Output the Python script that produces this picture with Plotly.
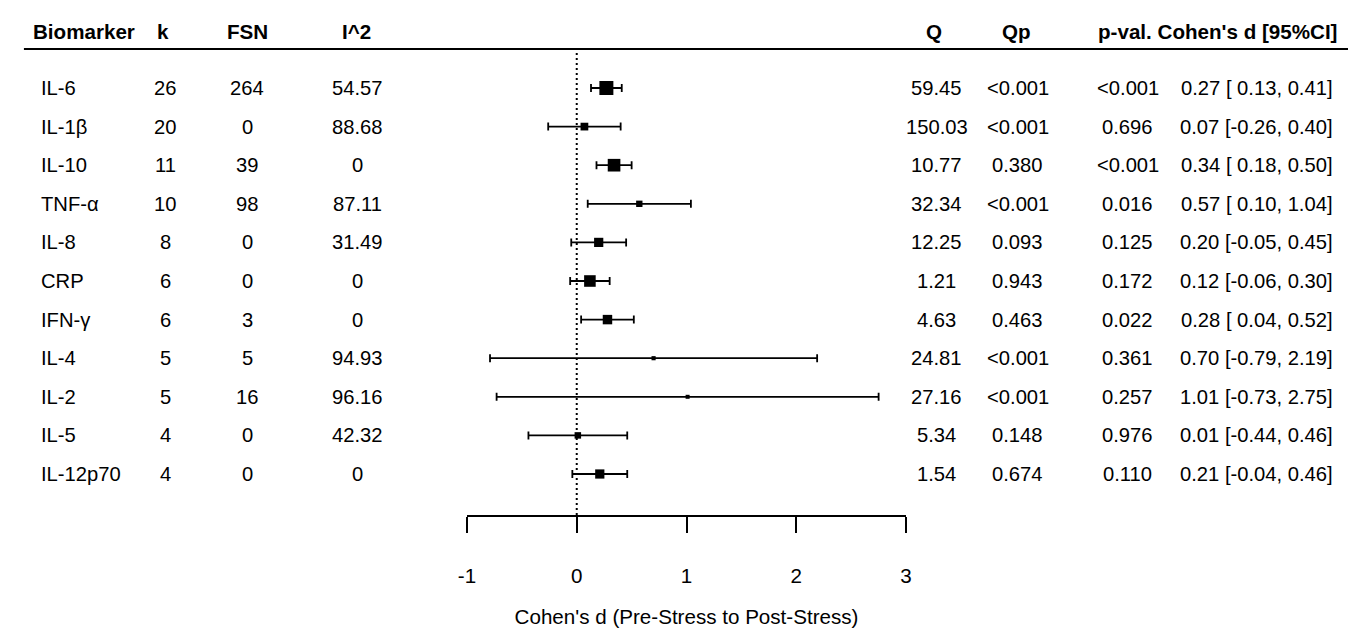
import plotly.graph_objects as go

# ---------------- data ----------------
biomarkers = ["IL-6", "IL-1β", "IL-10", "TNF-α", "IL-8", "CRP", "IFN-γ", "IL-4", "IL-2", "IL-5", "IL-12p70"]
k_vals = [26, 20, 11, 10, 8, 6, 6, 5, 5, 4, 4]
fsn_vals = [264, 0, 39, 98, 0, 0, 3, 5, 16, 0, 0]
i2_vals = [54.57, 88.68, 0, 87.11, 31.49, 0, 0, 94.93, 96.16, 42.32, 0]
q_vals = [59.45, 150.03, 10.77, 32.34, 12.25, 1.21, 4.63, 24.81, 27.16, 5.34, 1.54]
qp_vals = ["<0.001", "<0.001", "0.380", "<0.001", "0.093", "0.943", "0.463", "<0.001", "<0.001", "0.148", "0.674"]
p_vals = ["<0.001", "0.696", "<0.001", "0.016", "0.125", "0.172", "0.022", "0.361", "0.257", "0.976", "0.110"]
d_vals = [0.27, 0.07, 0.34, 0.57, 0.20, 0.12, 0.28, 0.70, 1.01, 0.01, 0.21]
ci_low = [0.13, -0.26, 0.18, 0.10, -0.05, -0.06, 0.04, -0.79, -0.73, -0.44, -0.04]
ci_high = [0.41, 0.40, 0.50, 1.04, 0.45, 0.30, 0.52, 2.19, 2.75, 0.46, 0.46]
tick_vals = [-1, 0, 1, 2, 3]
tick_labels = ["-1", "0", "1", "2", "3"]
headers = ["Biomarker", "k", "FSN", "I^2", "Q", "Qp", "p-val. Cohen's d [95%CI]"]
x_title = "Cohen's d (Pre-Stress to Post-Stress)"

# ---------------- layout constants ----------------
W, H = 1356, 629
FONT = "Liberation Sans, Arial, Helvetica, sans-serif"
FS = 20.2      # table values
FSH = 20.6     # headers, ticks, axis title
n = len(biomarkers)
row0_px, row_step = 80.0, 38.6
plot_top_px, plot_bot_px = 45.0, 507.0
y_top = (plot_top_px - row0_px) / row_step
y_bot = (plot_bot_px - row0_px) / row_step

# marker size from inverse CI width (weights)
w = [1.0 / (h - l) for l, h in zip(ci_low, ci_high)]
wmin, wmax = min(w), max(w)
sizes = [4 + 10 * (wi - wmin) / (wmax - wmin) for wi in w]

fig = go.Figure()
fig.add_trace(go.Scatter(
    x=d_vals, y=list(range(n)), mode="markers",
    marker=dict(symbol="square", size=sizes, color="black", opacity=1, line=dict(width=0)),
    error_x=dict(type="data", symmetric=False,
                 array=[h - d for h, d in zip(ci_high, d_vals)],
                 arrayminus=[d - l for d, l in zip(d_vals, ci_low)],
                 color="black", thickness=1.8, width=4),
    cliponaxis=False, showlegend=False, hoverinfo="skip",
))

# reference line at 0
fig.add_shape(type="line", xref="x", yref="y domain", x0=0, x1=0, y0=0, y1=1,
              line=dict(color="black", width=2, dash="2px,3px"), layer="below")
# header rule
fig.add_shape(type="line", xref="paper", yref="paper", x0=7 / W, x1=1, y0=1 - 41 / H, y1=1 - 41 / H,
              line=dict(color="black", width=2))

anns = []


def px(x):
    return x / W


def add_text(text, x, y, anchor, yref="y", bold=False, size=FS):
    anns.append(dict(text=f"<b>{text}</b>" if bold else text, x=px(x), xref="paper",
                     y=y, yref=yref, xanchor=anchor, yanchor="middle", showarrow=False,
                     font=dict(family=FONT, size=size, color="black")))


# headers
hy = 1 - 24 / H
hdr_pos = [(14, "left"), (148, "center"), (233, "center"), (343, "center"),
           (927, "center"), (1011, "center"), (1337, "right")]
for txt, (x, a) in zip(headers, hdr_pos):
    add_text(txt, x, hy, a, yref="paper", bold=True, size=FSH)

for i in range(n):
    add_text(biomarkers[i], 22, i, "left")
    add_text(str(k_vals[i]), 150, i, "center")
    add_text(str(fsn_vals[i]), 233, i, "center")
    add_text(f"{i2_vals[i]:g}", 344, i, "center")
    add_text(f"{q_vals[i]:.2f}", 930, i, "center")
    add_text(qp_vals[i], 1012, i, "center")
    add_text(p_vals[i], 1123, i, "center")
    add_text(f"{d_vals[i]:.2f} [{ci_low[i]:5.2f}, {ci_high[i]:.2f}]", 1333, i, "right")

fig.update_layout(
    width=W, height=H, margin=dict(l=0, r=0, t=0, b=0),
    paper_bgcolor="white", plot_bgcolor="white",
    font=dict(family=FONT, size=FS, color="black"),
    annotations=anns,
    xaxis=dict(domain=[455 / W, 899 / W], range=[-1, 3], tickvals=tick_vals, ticktext=tick_labels,
               showgrid=False, zeroline=False, showline=True, linecolor="black", linewidth=1.8,
               ticks="outside", ticklen=16, tickwidth=1.8, tickcolor="black",
               ticklabelstandoff=25, tickfont=dict(family=FONT, size=FSH, color="black"),
               title=dict(text=x_title, standoff=24, font=dict(family=FONT, size=FSH, color="black")),
               fixedrange=True),
    yaxis=dict(domain=[1 - plot_bot_px / H, 1 - plot_top_px / H], range=[y_bot, y_top],
               showgrid=False, zeroline=False, showline=False, showticklabels=False, ticks="",
               fixedrange=True),
)

fig.write_html("out.html")
